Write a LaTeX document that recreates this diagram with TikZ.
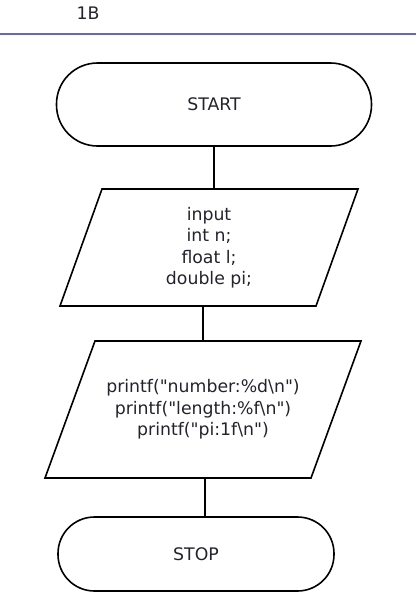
\documentclass[tikz,border=0pt]{standalone}
\usepackage{fontspec}
\newfontfamily\chartfont{DejaVu Sans}
\definecolor{rulecol}{RGB}{102,102,187}
\definecolor{inkcol}{RGB}{35,35,45}
\newcommand{\bs}{\textbackslash}
\begin{document}
\begin{tikzpicture}[x=1pt,y=-1pt,
    every node/.style={font=\chartfont\fontsize{17.3}{21.5}\selectfont,text=inkcol},
    terminal/.style={draw,line width=1.6pt,rounded corners=#1,outer sep=0pt},
    io/.style={rectangle,align=center,outer sep=0pt},
    flow/.style={line width=1.6pt,line join=miter}]
  \useasboundingbox (0,0) rectangle (416,606);

  \node (title) at (88,13) {1B};
  \draw[line width=2pt,color=rulecol] (0,33.5) -- (416,33.5);

  \node[terminal=41pt,minimum width=315pt,minimum height=83pt] (start) at (214,104.5) {START};
  \node[io,minimum width=298pt,minimum height=117pt] (input) at (209,247.5)
    {input\\int n;\\float l;\\double pi;};
  \node[io,minimum width=316pt,minimum height=137pt] (output) at (203,409.5)
    {printf("number:\%d\bs n")\\printf("length:\%f\bs n")\\printf("pi:1f\bs n")};
  \node[terminal=36.5pt,minimum width=276pt,minimum height=74pt] (stop) at (196,554) {STOP};

  % parallelogram outlines
  \draw[flow] (input.south west) -- ([xshift=42pt]input.north west) -- (input.north east)
    -- ([xshift=-42pt]input.south east) -- cycle;
  \draw[flow] (output.south west) -- ([xshift=50pt]output.north west) -- (output.north east)
    -- ([xshift=-50pt]output.south east) -- cycle;

  \draw[flow] (start.south) -- (start.south |- input.north);
  \draw[flow] (output.north) -- (output.north |- input.south);
  \draw[flow] ([xshift=2pt]output.south) -- ([xshift=2pt]output.south |- stop.north);
\end{tikzpicture}
\end{document}
